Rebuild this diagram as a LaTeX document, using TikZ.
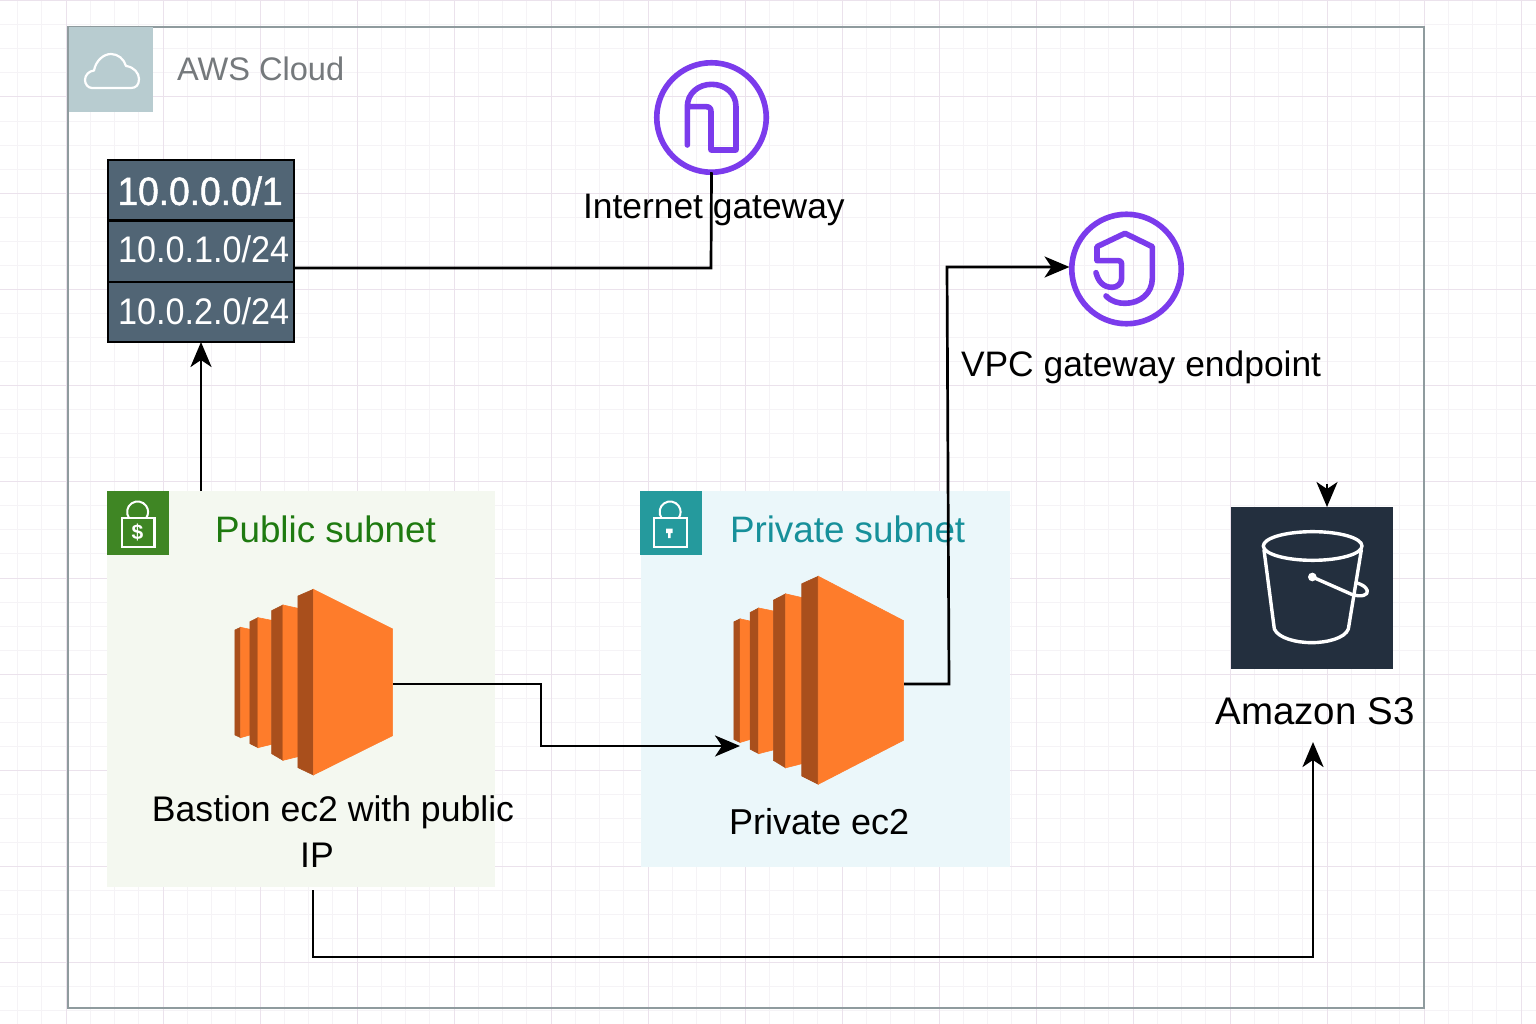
\documentclass[tikz,border=0pt]{standalone}
\usepackage{fontspec}
\setmainfont{Liberation Sans}
\newfontfamily\fbfont[FakeBold=1.2,FakeStretch=0.94]{Liberation Sans}
\newfontfamily\narrowfont[FakeStretch=0.925]{Liberation Sans}
\usetikzlibrary{arrows.meta,calc}
\definecolor{gridmajor}{HTML}{EBE2EC}
\definecolor{gridminor}{HTML}{F5F3F6}
\definecolor{framecol}{HTML}{8F9B9E}
\definecolor{cloudbg}{HTML}{B8CCD0}
\definecolor{cloudtxt}{HTML}{75797C}
\definecolor{tablefill}{HTML}{516575}
\definecolor{purplec}{HTML}{7B3BEC}
\definecolor{pubfill}{HTML}{F4F8F0}
\definecolor{pubicon}{HTML}{3F8624}
\definecolor{pubtxt}{HTML}{1E7A10}
\definecolor{prifill}{HTML}{EBF7FA}
\definecolor{priicon}{HTML}{259A9D}
\definecolor{pritxt}{HTML}{17909A}
\definecolor{ecmain}{HTML}{FE7C2B}
\definecolor{ecdark}{HTML}{A94F1C}
\definecolor{sdark}{HTML}{232F3E}
\tikzset{
  x=1pt,y=-1pt,
  every node/.style={inner sep=0pt,outer sep=0pt},
  conn/.style={draw=black,line width=2.7pt,line join=miter},
  arrowed/.style={conn,-{Stealth[length=25pt,width=21pt,inset=7pt]}},
  lbl/.style={anchor=base west,text=black,font=\fontsize{35.4}{42}\selectfont},
  cellbox/.style={draw=black,line width=2.4pt,fill=tablefill,minimum width=186pt,text=white},
  roundicon/.style={circle,draw=purplec,line width=5.6pt,minimum size=109.5pt,fill=none},
  glyph/.style={draw=purplec,line width=5.6pt,line cap=round,line join=round},
  iconbox/.style={minimum width=62pt,minimum height=64pt,anchor=north west},
  lockline/.style={draw=white,line width=2pt},
  bucket/.style={draw=white,line width=3.4pt,line join=round,line cap=round},
  ecface/.style={fill=ecmain,draw=ecmain,line width=.6pt},
  ecside/.style={fill=ecdark,draw=ecdark,line width=.6pt},
  ectmain/.pic={
    \path[ecside] (405,435)--(422,427)--(422,758)--(405,750)--cycle;
    \path[ecface] (422,427)--(450,433)--(450,750)--(422,758)--cycle;
    \path[ecside] (450,410)--(474,398)--(474,788)--(450,776)--cycle;
    \path[ecface] (474,398)--(515,406)--(515,778)--(474,788)--cycle;
    \path[ecside] (515,377)--(549,360)--(549,826)--(515,806)--cycle;
    \path[ecface] (549,360)--(594,370)--(594,815)--(549,826)--cycle;
    \path[ecside] (594,333)--(640,313)--(640,870)--(594,848)--cycle;
    \path[ecface] (640,313)--(878,432)--(878,752)--(640,870)--cycle;
  }
}
\begin{document}
\begin{tikzpicture}
\useasboundingbox (0,0) rectangle (1536,1024);
\fill[white] (0,0) rectangle (1536,1024);
% page grid
\foreach \k in {0,...,66}{
  \pgfmathsetmacro{\gx}{-31+24.25*\k}
  \pgfmathtruncatemacro{\gm}{mod(\k,4)}
  \ifnum\gm=0\relax\else\draw[gridminor,line width=1pt] (\gx,0)--(\gx,1024);\fi
}
\foreach \k in {0,...,43}{
  \pgfmathsetmacro{\gy}{.8+24.05*\k}
  \pgfmathtruncatemacro{\gm}{mod(\k,4)}
  \ifnum\gm=0\relax\else\draw[gridminor,line width=1pt] (0,\gy)--(1536,\gy);\fi
}
\foreach \k in {0,...,16}{
  \pgfmathsetmacro{\gx}{-31+97*\k}
  \draw[gridmajor,line width=1pt] (\gx,0)--(\gx,1024);
}
\foreach \k in {0,...,10}{
  \pgfmathsetmacro{\gy}{.8+96.2*\k}
  \draw[gridmajor,line width=1pt] (0,\gy)--(1536,\gy);
}
% AWS cloud frame
\node[draw=framecol,line width=2pt,minimum width=1356pt,minimum height=981pt,anchor=north west] (frame) at (68,27) {};
\node[fill=cloudbg,minimum width=84pt,minimum height=85pt,anchor=north west] (cloudicon) at (69,27.5) {};
\draw[white,line width=2.2pt,line join=round] (92,88) .. controls (88,88) and (85,84) .. (85,80)
  .. controls (85,75) and (89,71) .. (94,70.5) .. controls (96,60) and (104,54) .. (111,54)
  .. controls (118,54) and (124,59) .. (126,66) .. controls (134,67) and (139,73) .. (139,79)
  .. controls (139,85) and (136,88) .. (131,88) -- cycle;
\node[anchor=base west,text=cloudtxt,font=\fontsize{32.6}{38}\selectfont] (cloudlabel) at (177,81) {AWS Cloud};
% subnets
\node[fill=pubfill,minimum width=388pt,minimum height=396pt,anchor=north west] (pubsub) at (107,491) {};
\node[fill=prifill,minimum width=369pt,minimum height=376pt,anchor=north west] (prisub) at (640.5,491) {};
\node[iconbox,fill=pubicon,minimum width=61.5pt] (pubicon) at (107,491) {};
\node[iconbox,fill=priicon,minimum width=61.5pt] (priicon) at (640,491) {};
\draw[lockline] (129,518) arc[start angle=145,end angle=395,radius=10.5];
\draw[lockline,line width=2.4pt] (121.7,518) rectangle (154.3,546.7);
\node[text=white,font=\fontsize{21}{24}\selectfont\bfseries] (dollar) at (137.5,532.5) {\$};
\draw[lockline] (661.5,518) arc[start angle=145,end angle=395,radius=10.5];
\draw[lockline,line width=2.4pt] (654,518) rectangle (686.7,547);
\fill[white] (666,528.5) rectangle (672.5,533) (668.2,533) rectangle (670.5,538);
\node[anchor=base west,text=pubtxt,font=\fontsize{36.8}{42}\selectfont] (publabel) at (215,542.5) {Public subnet};
\node[anchor=base west,text=pritxt,font=\fontsize{36.8}{42}\selectfont] (prilabel) at (730,542.5) {Private subnet};
% EC2 icons
\begin{scope}[shift={(100,485)},x=.3333pt,y=-.3333pt]
\pic at (0,0) {ectmain};
\end{scope}
\node[minimum width=158pt,minimum height=186pt] (bastion) at (314,684) {};
\begin{scope}[shift={(588.7,459.4)},x=.3587pt,y=-.3734pt]
\pic at (0,0) {ectmain};
\end{scope}
\node[minimum width=170pt,minimum height=208pt] (private) at (819,684) {};
% labels
\node[align=center,text=black,font=\fontsize{35.6}{46}\selectfont] (bastionlabel) at (333,832) {Bastion ec2 with public\\\mbox{IP\hspace{32pt}}};
\node[anchor=base west,text=black,font=\fontsize{36}{42}\selectfont] (privatelabel) at (729,834) {Private ec2};
% route table
\node[cellbox,minimum height=61pt,anchor=north west] (rowa) at (108,160) {};
\node[cellbox,minimum height=62pt,anchor=north west] (rowb) at (108,220.5) {};
\node[cellbox,minimum height=60pt,anchor=north west] (rowc) at (108,282) {};
\node[anchor=base west,text=white,font=\fbfont\fontsize{39.5}{46}\selectfont] (rowatext) at (117.5,205) {10.0.0.0/1};
\node[anchor=base west,text=white,font=\narrowfont\fontsize{37}{42}\selectfont] (rowbtext) at (118,262) {10.0.1.0/24};
\node[anchor=base west,text=white,font=\narrowfont\fontsize{37}{42}\selectfont] (rowctext) at (118,324.5) {10.0.2.0/24};
% internet gateway
\node[roundicon] (igw) at (711.5,117.5) {};
\begin{scope}[shift={(640,50)},x=.3333pt,y=-.3333pt]
\draw[glyph] (142,285) -- (142,170) .. controls (142,130) and (175,103) .. (215,103)
  .. controls (255,103) and (288,130) .. (288,170) -- (288,300) -- (213,300) -- (213,185)
  .. controls (213,175) and (208,170) .. (198,170) -- (142,170);
\end{scope}
\node[lbl] (igwlabel) at (583,219) {Internet gateway};
% VPC gateway endpoint
\node[roundicon] (endpoint) at (1126.5,269) {};
\begin{scope}[shift={(1050,200)},x=.3333pt,y=-.3333pt]
\draw[glyph] (168,288) .. controls (185,305) and (205,310) .. (225,310)
  .. controls (270,310) and (307,280) .. (307,235) -- (307,140) -- (225,100) -- (141,140) -- (141,182)
  -- (205,182) .. controls (212,182) and (215,185) .. (215,192) -- (215,235)
  .. controls (215,252) and (200,262) .. (187,262) .. controls (160,262) and (145,245) .. (138,218);
\end{scope}
\node[lbl] (endpointlabel) at (961,376.5) {VPC gateway endpoint};
% S3
\node[fill=sdark,minimum width=162pt,minimum height=162pt,anchor=north west] (sss) at (1231,507) {};
\begin{scope}[shift={(1220,475)},x=.3333pt,y=-.3333pt]
\draw[bucket] (278,213) ellipse[x radius=148,y radius=43];
\draw[bucket] (132,225) -- (163,462) .. controls (175,490) and (230,503) .. (275,503)
  .. controls (320,503) and (375,490) .. (385,462) -- (424,225);
\draw[bucket] (277,306) -- (395,358) .. controls (425,368) and (445,360) .. (442,347) .. controls (438,335) and (425,328) .. (408,323);
\fill[white] (277,306) circle[radius=13];
\end{scope}
\node[anchor=base west,text=black,font=\fontsize{38.5}{44}\selectfont] (s3label) at (1215.5,724) {Amazon S3};
% named free ends
\coordinate (tablelink) at (rowb.east |- 0,268);
\coordinate (bendpriv) at (740,746);
\coordinate (midbend) at (541,684);
\coordinate (riser) at (949,684);
\coordinate (risertop) at (947,267);
\coordinate (endin) at (1069.5,267);
\coordinate (pubout) at (313,890);
\coordinate (busbend) at (1313,957);
\coordinate (s3in) at (1313,742);
\coordinate (stub) at (1327,484);
\coordinate (stubend) at (1327,507);
% connectors
\draw[conn] (igw.south) -- (711,268) -- (tablelink);
\draw[arrowed] (rowc.south |- pubsub.north) -- (rowc.south);
\draw[arrowed] (bastion.east) -- (midbend) -- (midbend |- bendpriv) -- (bendpriv);
\draw[arrowed] (private.east) -- (riser) -- (risertop) -- (endin);
\draw[arrowed] (pubout) -- (pubout |- busbend) -- (busbend) -- (s3in);
\draw[arrowed] (stub) -- (stubend);
\end{tikzpicture}
\end{document}
